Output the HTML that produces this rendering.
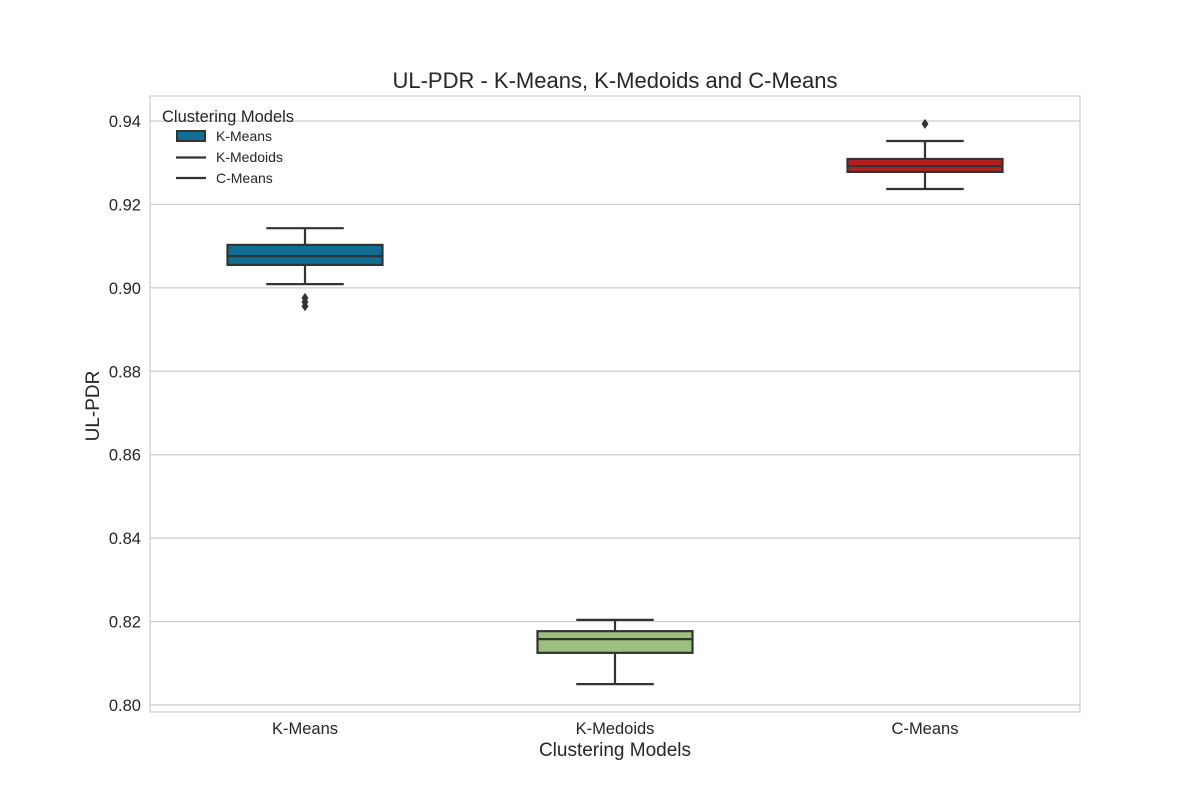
<!DOCTYPE html>
<html><head><meta charset="utf-8"><style>
body{margin:0;background:#fff;}
svg text{font-family:"Liberation Sans",sans-serif;fill:#262626;}
</style></head><body>
<svg id="chart" width="1200" height="800">
<g id="grid"></g>
<rect x="150" y="96" width="930" height="616" fill="none" stroke="#cccccc" stroke-width="1.2"/>
<g id="marks"></g>
<text x="615" y="88" text-anchor="middle" font-size="22">UL-PDR - K-Means, K-Medoids and C-Means</text>
<text x="615" y="756" text-anchor="middle" font-size="19">Clustering Models</text>
<text transform="translate(99,406) rotate(-90)" text-anchor="middle" font-size="19">UL-PDR</text>
<g>
<text x="162" y="122" font-size="16.5">Clustering Models</text>
<rect x="177" y="131" width="28" height="10" fill="#106e95" stroke="#333" stroke-width="2"/>
<text x="216" y="141" font-size="14">K-Means</text>
<line x1="176" x2="206" y1="157.5" y2="157.5" stroke="#333" stroke-width="2.2"/>
<text x="216" y="162" font-size="14">K-Medoids</text>
<line x1="176" x2="206" y1="178" y2="178" stroke="#333" stroke-width="2.2"/>
<text x="216" y="183" font-size="14">C-Means</text>
</g>
</svg>
<script>
const categories=["K-Means","K-Medoids","C-Means"];
const whiskerHigh=[0.9143,0.8204,0.9352];
const q3=[0.9103,0.8177,0.9309];
const medians=[0.9076,0.8158,0.9292];
const q1=[0.9055,0.8125,0.9278];
const whiskerLow=[0.9009,0.8050,0.9237];
const outliers=[[0.8976,0.8966,0.8956],[],[0.9393]];
const colors=["#106e95","#9dbf80","#b3201c"];
const yTicks=[0.80,0.82,0.84,0.86,0.88,0.90,0.92,0.94];

const NS="http://www.w3.org/2000/svg";
const X0=150,X1=1080;
function y(v){return 705-(v-0.80)*(584/0.14);}
function xc(i){return X0+(X1-X0)*(i+0.5)/categories.length;}
const bw=(X1-X0)/categories.length*0.5;
function mk(tag,attrs,parent){const e=document.createElementNS(NS,tag);for(const k in attrs)e.setAttribute(k,attrs[k]);parent.appendChild(e);return e;}
const grid=document.getElementById('grid'),marks=document.getElementById('marks'),svg=document.getElementById('chart');
yTicks.forEach(t=>{
  const l=mk('line',{x1:X0,x2:X1,y1:y(t),y2:y(t),stroke:'#cccccc','stroke-width':1.2},grid);
  
  
  const tx=mk('text',{x:141,y:y(t)+6,'text-anchor':'end','font-size':16.5},svg);
  tx.textContent=t.toFixed(2);
  
  
});
categories.forEach((c,i)=>{
  const cx=xc(i);
  const g=mk('g',{},marks);
  
  
  const st={stroke:'#333','stroke-width':2.2};
  mk('line',Object.assign({x1:cx,x2:cx,y1:y(whiskerHigh[i]),y2:y(q3[i])},st),g);
  mk('line',Object.assign({x1:cx,x2:cx,y1:y(q1[i]),y2:y(whiskerLow[i])},st),g);
  mk('line',Object.assign({x1:cx-bw/4,x2:cx+bw/4,y1:y(whiskerHigh[i]),y2:y(whiskerHigh[i])},st),g);
  mk('line',Object.assign({x1:cx-bw/4,x2:cx+bw/4,y1:y(whiskerLow[i]),y2:y(whiskerLow[i])},st),g);
  mk('rect',Object.assign({x:cx-bw/2,y:y(q3[i]),width:bw,height:y(q1[i])-y(q3[i]),fill:colors[i]},st),g);
  mk('line',Object.assign({x1:cx-bw/2,x2:cx+bw/2,y1:y(medians[i]),y2:y(medians[i])},st),g);
  outliers[i].forEach(o=>{
    const p=mk('path',{d:`M${cx},${y(o)-5} L${cx+3.5},${y(o)} L${cx},${y(o)+5} L${cx-3.5},${y(o)} Z`,fill:'#333'},g);
    
    
  });
  const tx=mk('text',{x:cx,y:734,'text-anchor':'middle','font-size':16.5},svg);
  tx.textContent=c;
  
  
});
</script>
</body></html>
